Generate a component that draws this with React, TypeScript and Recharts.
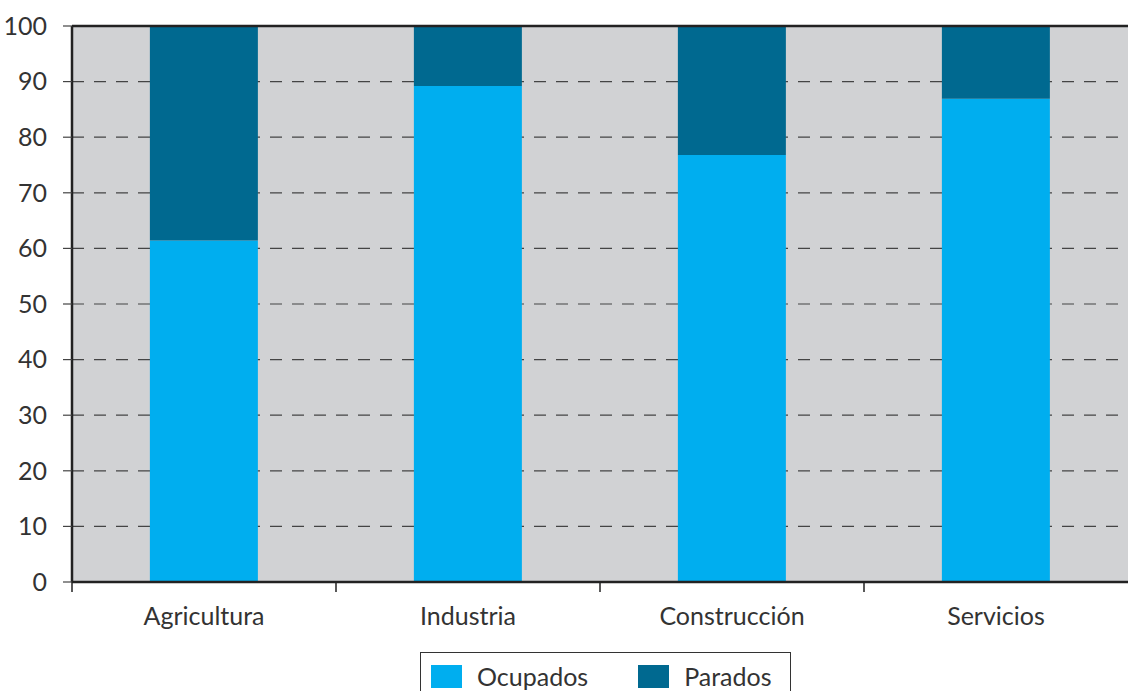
import React from "react";
import {
	BarChart,
	Bar,
	XAxis,
	YAxis,
	CartesianGrid,
	ReferenceLine,
} from "recharts";

const sectors = ["Agricultura", "Industria", "Construcción", "Servicios"];
const ocupados = [61.4, 89.2, 76.8, 86.9];
const parados = [38.6, 10.8, 23.2, 13.1];
const yTicks = [0, 10, 20, 30, 40, 50, 60, 70, 80, 90, 100];

const COLOR_OCUPADOS = "#00aeef";
const COLOR_PARADOS = "#006990";
const FONT = "Lato, 'Open Sans', sans-serif";

const data = sectors.map((name, i) => ({
	name,
	ocupados: ocupados[i],
	parados: parados[i],
}));

// label at the category centre, tick mark at its left boundary
function SectorTick(props: any) {
	const { x, y, payload } = props;
	const half = (1128 - 72) / sectors.length / 2;
	return (
		<g>
			<line x1={x - half} y1={y - 8} x2={x - half} y2={y + 2} stroke="#222" strokeWidth={1.5} />
			<text x={x} y={y + 35} textAnchor="middle" fontSize={25} fill="#333" fontFamily={FONT}>
				{payload.value}
			</text>
		</g>
	);
}

function LegendBox() {
	const items = [
		{ label: "Ocupados", color: COLOR_OCUPADOS },
		{ label: "Parados", color: COLOR_PARADOS },
	];
	return (
		<div
			style={{
				position: "absolute",
				left: 420,
				top: 652,
				width: 371,
				height: 50,
				display: "flex",
				alignItems: "flex-start",
				gap: 50,
				border: "1.5px solid #333",
				padding: "11px 10px",
				boxSizing: "border-box",
				fontFamily: FONT,
				fontSize: 25,
				lineHeight: "25px",
				color: "#333",
				background: "#fff",
			}}>
			{items.map((it) => (
				<div key={it.label} style={{ display: "flex", alignItems: "center", gap: 15 }}>
					<span style={{ width: 31, height: 23, background: it.color, display: "inline-block" }} />
					<span>{it.label}</span>
				</div>
			))}
		</div>
	);
}

export default function App() {
	return (
		<div style={{ position: "fixed", left: 0, top: 0, width: 1128, height: 691, background: "#fff", overflow: "hidden" }}>
			<BarChart
				width={1128}
				height={691}
				data={data}
				margin={{ top: 26, right: 0, bottom: 0, left: 0 }}
				barCategoryGap="29.5%">
				<CartesianGrid
					vertical={false}
					fill="#d1d2d4"
					fillOpacity={1}
					stroke="#444"
					strokeDasharray="12 10"
					strokeWidth={1.2}
				/>
				<XAxis
					dataKey="name"
					height={109}
					axisLine={{ stroke: "#222", strokeWidth: 2.5 }}
					tickLine={false}
					tick={<SectorTick />}
					interval={0}
				/>
				<YAxis
					width={72}
					domain={[0, 100]}
					ticks={yTicks}
					interval={0}
					axisLine={{ stroke: "#222", strokeWidth: 2.5 }}
					tickLine={{ stroke: "#444", strokeWidth: 1.2 }}
					tickSize={9}
					tickMargin={16}
					tick={{ fontSize: 25, fill: "#333", fontFamily: FONT }}
				/>
				<Bar dataKey="ocupados" name="Ocupados" stackId="a" fill={COLOR_OCUPADOS} isAnimationActive={false} />
				<Bar dataKey="parados" name="Parados" stackId="a" fill={COLOR_PARADOS} isAnimationActive={false} />
				<ReferenceLine y={100} stroke="#222" strokeWidth={2.5} />
			</BarChart>
			<LegendBox />
		</div>
	);
}
